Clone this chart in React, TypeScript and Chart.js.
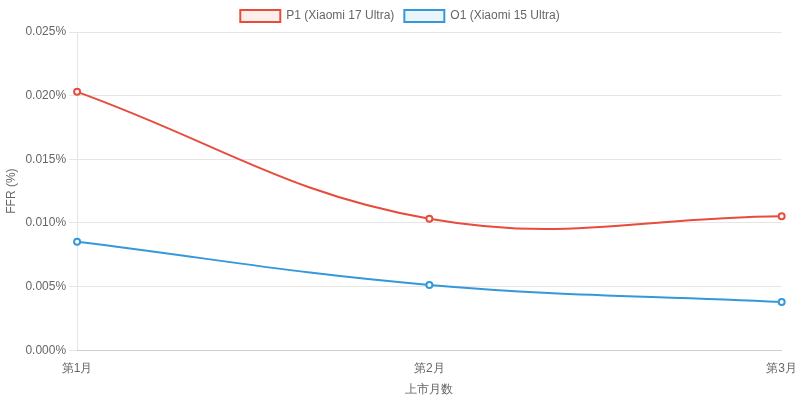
import { useEffect, useRef } from "react";
import Chart from "chart.js/auto";

const months = ["第1月", "第2月", "第3月"];
const p1Values = [0.0203, 0.01033, 0.01053];
const o1Values = [0.00852, 0.00513, 0.00379];

export default function App() {
  const chartRef = useRef<HTMLCanvasElement>(null);

  useEffect(() => {
    document.body.style.margin = "0";
    Chart.defaults.font.family = "'Liberation Sans', Arial, sans-serif";
    Chart.defaults.color = "#666";

    const chart = new Chart(chartRef.current!, {
      type: "line",
      data: {
        labels: months,
        datasets: [
          {
            label: "P1 (Xiaomi 17 Ultra)",
            data: p1Values,
            borderColor: "#e74c3c",
            backgroundColor: "rgba(231, 76, 60, 0.1)",
            pointBackgroundColor: "#fff",
            borderWidth: 2,
            pointRadius: 3,
            pointBorderWidth: 2,
            tension: 0.4,
            fill: false,
          },
          {
            label: "O1 (Xiaomi 15 Ultra)",
            data: o1Values,
            borderColor: "#3498db",
            backgroundColor: "rgba(52, 152, 219, 0.1)",
            pointBackgroundColor: "#fff",
            borderWidth: 2,
            pointRadius: 3,
            pointBorderWidth: 2,
            tension: 0.4,
            fill: false,
          },
        ],
      },
      options: {
        animation: false,
        responsive: true,
        maintainAspectRatio: false,
        plugins: {
          legend: { position: "top" },
        },
        scales: {
          x: {
            title: { display: true, text: "上市月数" },
            grid: { display: false },
          },
          y: {
            min: 0,
            max: 0.025,
            ticks: {
              stepSize: 0.005,
              callback: (v) => Number(v).toFixed(3) + "%",
            },
            title: { display: true, text: "FFR (%)" },
          },
        },
      },
    });

    return () => chart.destroy();
  }, []);

  return (
    <div style={{ width: "800px", height: "401px" }}>
      <canvas ref={chartRef}></canvas>
    </div>
  );
}
